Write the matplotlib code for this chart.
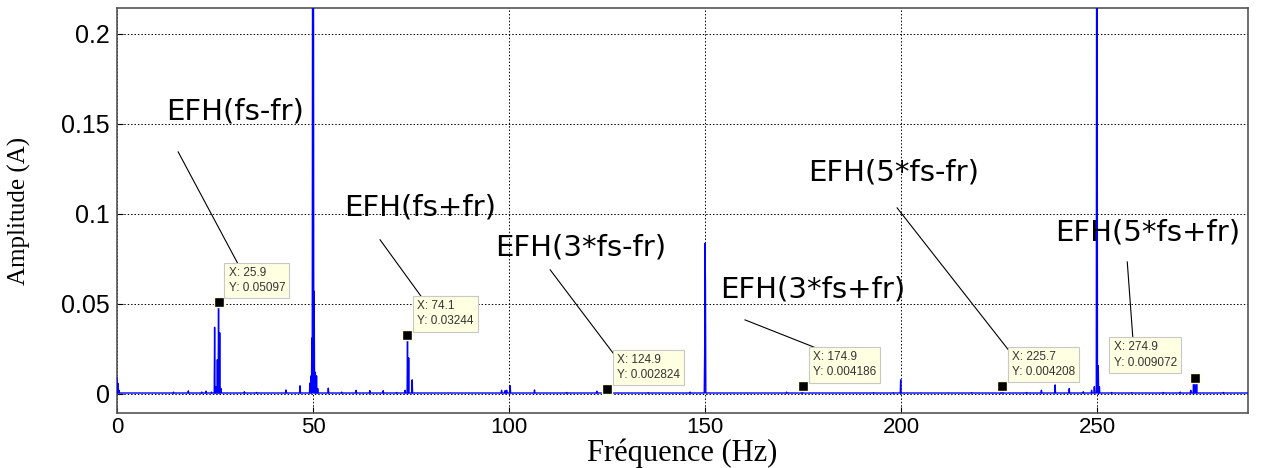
import numpy as np
import matplotlib
matplotlib.use("Agg")
import matplotlib.pyplot as plt

# ---------------- data ----------------
peak_freqs = [0.0, 0.2, 0.5, 14.4, 18.2, 21.6, 22.7, 24.1,
              24.95, 25.2, 25.6, 25.9, 26.25, 26.5,
              32.5, 35.6, 43.1, 46.7, 49.2, 49.5, 49.7, 49.9, 50.0, 50.1, 50.3, 50.6, 50.9, 51.2,
              53.9, 57.3, 61.0, 64.5, 67.9, 71.3, 73.5,
              74.1, 74.4, 75.3,
              85.0, 93.4, 98.1, 99.0, 99.4, 100.3, 106.5, 114.7, 122.4, 124.9, 135.5, 146.2,
              149.9, 150.0, 150.1,
              170.8, 174.6, 174.9, 193.0, 198.0, 199.9, 205.0, 212.0, 218.0,
              225.4, 225.7, 226.1, 232.0, 235.8, 239.3, 242.9, 246.5, 248.6, 249.3,
              249.9, 250.0, 250.3, 250.6, 253.7, 258.8, 266.9, 271.2, 273.9, 274.6, 274.9, 275.4, 282.2]
peak_amps = [0.009, 0.006, 0.002, 0.001, 0.0017, 0.001, 0.0015, 0.001,
             0.037, 0.004, 0.019, 0.05097, 0.034, 0.003,
             0.0012, 0.0008, 0.0022, 0.0045, 0.006, 0.01, 0.031, 0.3, 0.3, 0.3, 0.057, 0.012, 0.01, 0.003,
             0.0032, 0.001, 0.002, 0.0018, 0.0018, 0.0008, 0.002,
             0.03244, 0.02, 0.0078,
             0.0006, 0.0005, 0.002, 0.0018, 0.002, 0.0045, 0.0022, 0.0008, 0.0015, 0.002824, 0.0007, 0.001,
             0.022, 0.0836, 0.0617,
             0.001, 0.0015, 0.004186, 0.0007, 0.0007, 0.0078, 0.0006, 0.0006, 0.0007,
             0.003, 0.004208, 0.003, 0.0008, 0.002, 0.005, 0.003, 0.0012, 0.002, 0.004,
             0.3, 0.3, 0.0156, 0.004, 0.0008, 0.0007, 0.0008, 0.001, 0.002, 0.006, 0.009072, 0.0065, 0.0008]
baseline_level = 0.0005
freq_step = 0.1
freq_max = 289.0

cursor_x = [25.9, 74.1, 124.9, 174.9, 225.7, 274.9]
cursor_y = [0.05097, 0.03244, 0.002824, 0.004186, 0.004208, 0.009072]
cursor_labels = ["X: 25.9\nY: 0.05097", "X: 74.1\nY: 0.03244", "X: 124.9\nY: 0.002824",
                 "X: 174.9\nY: 0.004186", "X: 225.7\nY: 0.004208", "X: 274.9\nY: 0.009072"]

efh_labels = ["EFH(fs-fr)", "EFH(fs+fr)", "EFH(3*fs-fr)", "EFH(3*fs+fr)", "EFH(5*fs-fr)", "EFH(5*fs+fr)"]
efh_text_pos = [(30.1, 0.157), (77.3, 0.1033), (118.4, 0.0811), (177.6, 0.0578), (198.0, 0.1228), (263.0, 0.0894)]
efh_line_start = [(15.6, 0.1344), (67.1, 0.0856), (110.5, 0.0689), (160.2, 0.0411), (199.0, 0.1033), (257.7, 0.0733)]
efh_line_end = [(31.4, 0.070), (78.6, 0.0511), (126.5, 0.0228), (180.9, 0.0233), (227.8, 0.0233), (259.2, 0.0289)]

xticks = [0, 50, 100, 150, 200, 250]
yticks = [0, 0.05, 0.1, 0.15, 0.2]
ytick_labels = ["0", "0.05", "0.1", "0.15", "0.2"]

# ------------- build spectrum on grid -------------
freqs = np.arange(0, freq_max + freq_step / 2, freq_step)
amps = np.full_like(freqs, baseline_level)
for f, a in zip(peak_freqs, peak_amps):
    i = int(round(f / freq_step))
    amps[i] = max(amps[i], a)

# ---------------- plot ----------------
fig = plt.figure(figsize=(12.61, 4.68), dpi=100)
ax = fig.add_axes([117 / 1261, 1 - 413 / 468, (1248 - 117) / 1261, (413 - 8) / 468])

ax.plot(freqs, amps, color="#0000FF", lw=1.0, zorder=3)

ax.set_xlim(0, freq_max - 0.5)
ax.set_ylim(-0.0106, 0.2143)
ax.set_xticks(xticks)
ax.set_yticks(yticks)
ax.set_yticklabels(ytick_labels)
ax.grid(True, color="black", linestyle=(0, (1.5, 2)), lw=0.7)
ax.tick_params(direction="in", length=4)
ax.tick_params(axis="y", labelsize=18, pad=5)
ax.tick_params(axis="x", labelsize=16, pad=3)
for lab in ax.get_xticklabels() + ax.get_yticklabels():
    lab.set_family("Liberation Sans")
for s in ax.spines.values():
    s.set_color("#555555")
    s.set_linewidth(1.2)

ax.set_xlabel("Fréquence (Hz)", family="Liberation Serif", fontsize=22, labelpad=0)
ax.set_ylabel("Amplitude (A)", family="Liberation Serif", fontsize=18, labelpad=22)

# data cursors
ax.plot(cursor_x, cursor_y, linestyle="none", marker="s", markersize=7,
        mfc="black", mec="#FFFFE1", mew=1.0, zorder=6)
for x, y, t in zip(cursor_x, cursor_y, cursor_labels):
    if x > 270:
        off, ha = (-18, 9), "right"
    else:
        off, ha = (10, 8), "left"
    ax.annotate(t, xy=(x, y), xytext=off, textcoords="offset pixels",
                ha=ha, va="bottom", multialignment="left", fontsize=8.5,
                family="Liberation Sans", color="#333333",
                linespacing=1.35, zorder=7,
                bbox=dict(boxstyle="square,pad=0.35", fc="#FFFFE1", ec="#C8C8C8", lw=0.8))

# EFH annotations
for lab, tp, ls, le in zip(efh_labels, efh_text_pos, efh_line_start, efh_line_end):
    ax.text(tp[0], tp[1], lab, ha="center", va="center", fontsize=21,
            family="DejaVu Sans", color="black", zorder=8)
    ax.plot([ls[0], le[0]], [ls[1], le[1]], color="black", lw=0.8, zorder=5)

fig.savefig("out.png", dpi=100)
